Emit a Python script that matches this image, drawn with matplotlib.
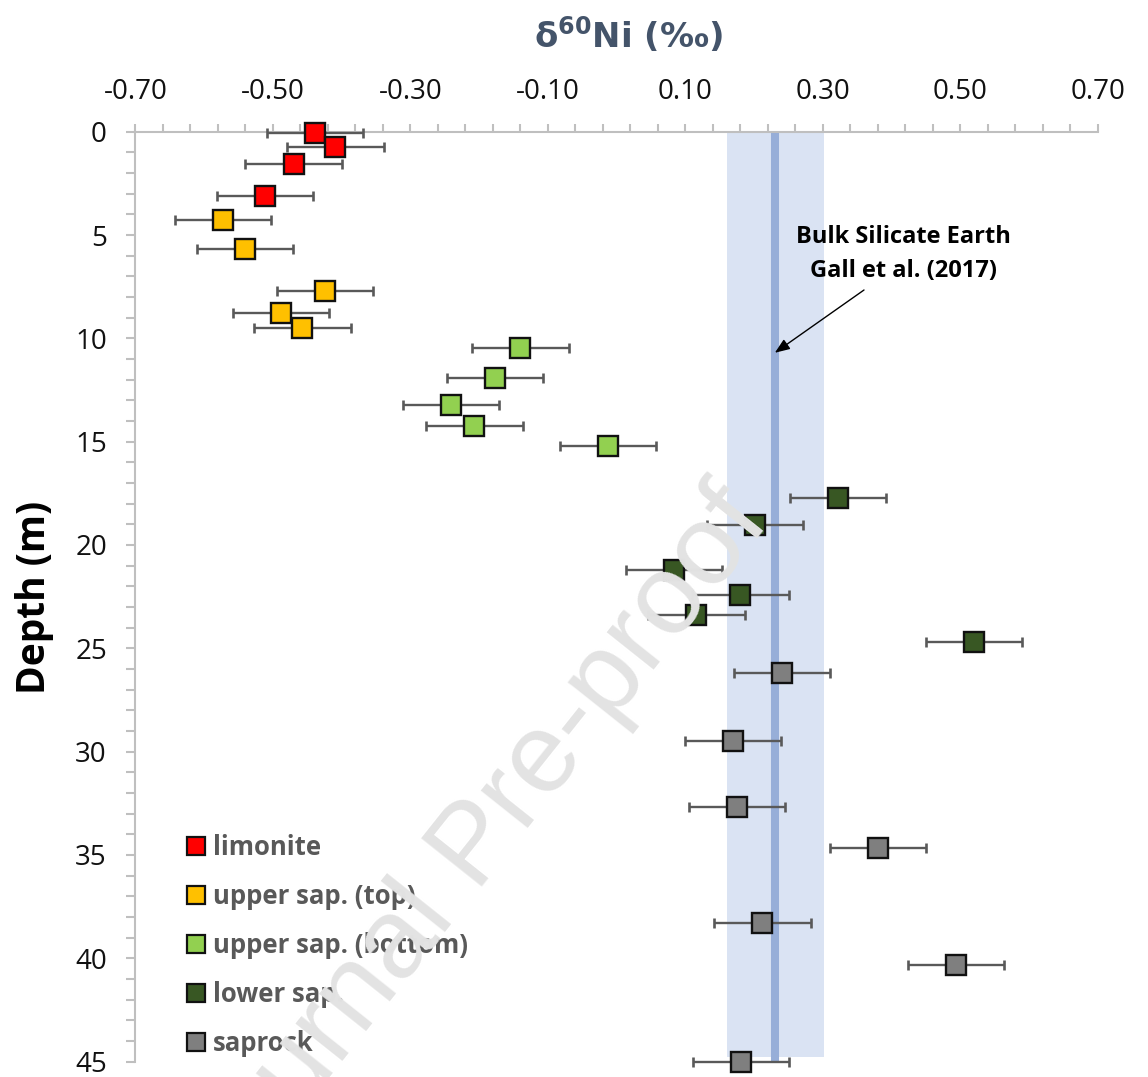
import matplotlib
matplotlib.use("Agg")
import matplotlib.pyplot as plt
from matplotlib.lines import Line2D
import numpy as np

# ---------------- data ----------------
groups = ["limonite", "upper sap. (top)", "upper sap. (bottom)", "lower sap.", "saprock"]
colors = ["#FF0000", "#FFC000", "#92D050", "#385723", "#7F7F7F"]

limonite_x = [-0.439, -0.409, -0.470, -0.511]
limonite_d = [0.08, 0.76, 1.55, 3.11]

upper_top_x = [-0.573, -0.541, -0.424, -0.488, -0.457]
upper_top_d = [4.28, 5.70, 7.72, 8.77, 9.50]

upper_bot_x = [-0.140, -0.177, -0.241, -0.207, -0.013]
upper_bot_d = [10.47, 11.92, 13.22, 14.22, 15.21]

lower_x = [0.322, 0.201, 0.083, 0.180, 0.116, 0.520]
lower_d = [17.74, 19.05, 21.22, 22.41, 23.39, 24.71]

saprock_x = [0.240, 0.169, 0.175, 0.380, 0.212, 0.494, 0.181]
saprock_d = [26.19, 29.48, 32.70, 34.68, 38.28, 40.33, 45.0]

err = 0.07  # 2SD on delta60Ni

bse_value = 0.23
bse_low, bse_high = 0.161, 0.302
bse_depth_end = 44.8
arrow_tip_depth = 10.7

xticks = [-0.70, -0.50, -0.30, -0.10, 0.10, 0.30, 0.50, 0.70]
xtick_labels = ["-0.70", "-0.50", "-0.30", "-0.10", "0.10", "0.30", "0.50", "0.70"]
yticks = [0, 5, 10, 15, 20, 25, 30, 35, 40, 45]

series_x = [limonite_x, upper_top_x, upper_bot_x, lower_x, saprock_x]
series_d = [limonite_d, upper_top_d, upper_bot_d, lower_d, saprock_d]

# ---------------- figure ----------------
W, H = 1148, 1077
fig = plt.figure(figsize=(W / 100, H / 100), dpi=100)
fig.patch.set_facecolor("white")

def px(x0, y0, x1, y1):
    return [x0 / W, 1 - y1 / H, (x1 - x0) / W, (y1 - y0) / H]

def fpt(x, y):
    return (x / W, 1 - y / H)

ax = fig.add_axes(px(135.4, 131.7, 1098, 1061.5))
ax.set_xlim(-0.70, 0.70)
ax.set_ylim(45, 0)

# BSE band + line
ax.fill_betweenx([0, bse_depth_end], bse_low, bse_high, color="#DAE3F3", lw=0, zorder=1)
ax.plot([bse_value, bse_value], [0, 45], color="#97AED8", lw=5.8, solid_capstyle="butt", zorder=2)

# data
for xs, ds, c in zip(series_x, series_d, colors):
    ax.errorbar(xs, ds, xerr=err, fmt="none", ecolor="#595959", elinewidth=1.7,
                capsize=3.6, capthick=1.9, zorder=3, clip_on=False)
    ax.plot(xs, ds, ls="none", marker="s", markersize=14.4, markerfacecolor=c,
            markeredgecolor="#111111", markeredgewidth=1.7, zorder=4, clip_on=False)

# axes styling
for s in ["bottom", "right"]:
    ax.spines[s].set_visible(False)
for s in ["top", "left"]:
    ax.spines[s].set_color("#BFBFBF")
    ax.spines[s].set_linewidth(1.5)

ax.xaxis.set_ticks_position("top")
ax.set_xticks(xticks)
ax.set_xticklabels(xtick_labels)
ax.set_xticks(np.round(np.arange(-0.70, 0.7001, 0.04), 2), minor=True)
ax.set_yticks(yticks)
ax.set_yticks(np.arange(0, 46, 1), minor=True)

for lab in ax.get_xticklabels() + ax.get_yticklabels():
    lab.set_fontfamily(["Open Sans", "DejaVu Sans"])
    lab.set_fontsize(20)
    lab.set_color("#111111")

ax.tick_params(axis="both", which="both", direction="out", color="#BFBFBF", width=1.5)
ax.tick_params(axis="x", which="both", length=5.5, pad=13)
ax.tick_params(axis="y", which="both", length=6.5, pad=14)

# title (top) and y label
fig.text(*fpt(628, 35), r"δ$^{\mathregular{60}}$Ni (‰)", ha="center", va="center",
         fontsize=24.5, fontweight="bold", color="#44546A",
         family=["DejaVu Sans"])
fig.text(*fpt(35, 597), "Depth (m)", ha="center", va="center", rotation=90,
         fontsize=28, fontweight="bold", color="black",
         family=["Open Sans", "DejaVu Sans"])

# annotation
fig.text(*fpt(903, 254), "Bulk Silicate Earth\nGall et al. (2017)",
         ha="center", va="center", fontsize=17, fontweight="bold",
         family=["Open Sans", "DejaVu Sans"], linespacing=1.55, zorder=6)
ax.annotate("", xy=(bse_value, arrow_tip_depth), xycoords="data",
            xytext=fpt(864, 290), textcoords="figure fraction",
            arrowprops=dict(arrowstyle="-|>,head_length=0.9,head_width=0.35",
                            color="black", lw=1.0, shrinkA=0, shrinkB=0),
            zorder=6)

# legend
handles = [Line2D([], [], ls="none", marker="s", markersize=13.5, markerfacecolor=c,
                  markeredgecolor="#111111", markeredgewidth=1.6) for c in colors]
leg = fig.legend(handles, groups, loc="upper left",
                 bbox_to_anchor=fpt(186, 834), frameon=False,
                 prop=dict(family=["Open Sans", "DejaVu Sans"], weight="bold", size=18.5),
                 labelcolor="#595959", handlelength=0.8, handletextpad=0.25,
                 labelspacing=0.86, borderpad=0, borderaxespad=0)

# watermark
fig.text(*fpt(772, 522), "Journal Pre-proof", rotation=51.5, rotation_mode="anchor",
         ha="right", va="baseline", fontsize=82, color="#E3E3E3",
         family=["Liberation Sans", "DejaVu Sans"], zorder=100)

fig.savefig("out.png", dpi=100)
